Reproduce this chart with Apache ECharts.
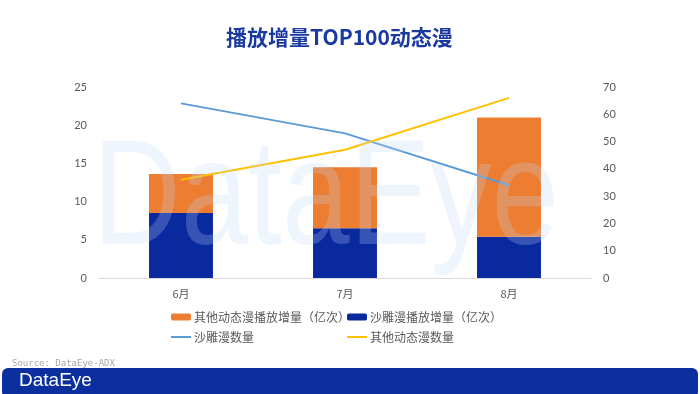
<!DOCTYPE html>
<html>
<head>
<meta charset="utf-8">
<script src="https://cdn.jsdelivr.net/npm/echarts@6/dist/echarts.min.js"></script>
<style>
html,body{margin:0;padding:0;background:#fff;}
#main{width:700px;height:394px;}
</style>
</head>
<body>
<div id="main"></div>
<script>
const categories = ['6月', '7月', '8月'];
const otherPlay = [5.1, 8.0, 15.6];
const shadiaoPlay = [8.5, 6.5, 5.4];
const shadiaoCount = [64, 53, 34];
const otherCount = [36, 47, 66];
const leftTicks = [0, 25, 5];
const rightTicks = [0, 70, 10];

const chart = echarts.init(document.getElementById('main'));
const cjk = '"Noto Sans CJK SC", "Noto Sans", sans-serif';
const lineIcon = 'path://M0 0 H20 V2 H0 Z';
const legendText = { fontFamily: cjk, fontSize: 12, color: '#595959', padding: [0, 0, 0, -2] };
chart.setOption({
  animation: false,
  backgroundColor: '#ffffff',
  title: {
    text: '播放增量TOP100动态漫',
    left: 221,
    top: 22,
    textStyle: { fontFamily: cjk, fontSize: 21, fontWeight: 'bold', color: '#1a3aa0' }
  },
  grid: { left: 99, right: 109, top: 87, bottom: 116 },
  legend: [
    {
      orient: 'vertical', left: 171, top: 311, itemGap: 8, padding: 0,
      itemWidth: 20, itemHeight: 7,
      textStyle: legendText,
      data: ['其他动态漫播放增量（亿次）', { name: '沙雕漫数量', icon: lineIcon }]
    },
    {
      orient: 'vertical', left: 347, top: 311, itemGap: 8, padding: 0,
      itemWidth: 20, itemHeight: 7,
      textStyle: legendText,
      data: ['沙雕漫播放增量（亿次）', { name: '其他动态漫数量', icon: lineIcon }]
    }
  ],
  xAxis: {
    type: 'category',
    data: categories,
    axisLine: { lineStyle: { color: '#d9d9d9', width: 1 } },
    axisTick: { show: false },
    axisLabel: { fontFamily: cjk, fontSize: 11, color: '#595959', margin: 10 }
  },
  yAxis: [
    {
      type: 'value', min: leftTicks[0], max: leftTicks[1], interval: leftTicks[2],
      splitLine: { show: false },
      axisLabel: { fontFamily: 'Lato, "Noto Sans", sans-serif', fontSize: 11, color: '#595959', margin: 12 }
    },
    {
      type: 'value', min: rightTicks[0], max: rightTicks[1], interval: rightTicks[2],
      splitLine: { show: false },
      axisLabel: { fontFamily: 'Lato, "Noto Sans", sans-serif', fontSize: 11, color: '#595959', margin: 12 }
    }
  ],
  graphic: [
    {
      type: 'text', left: 93, top: 128, z: 100, silent: true,
      scaleX: 0.81,
      style: {
        text: 'DataEye',
        font: '150px "Liberation Sans", Arial, sans-serif',
        fill: 'rgba(190,215,245,0.25)'
      }
    },
    {
      type: 'text', left: 12, top: 359, z: 10,
      style: { text: 'Source: DataEye-ADX', font: '9px "DejaVu Sans Mono", monospace', fill: '#a6a6a6' }
    },
    {
      type: 'rect', shape: { x: 2, y: 368, width: 696, height: 30, r: 6 }, z: 10,
      style: { fill: '#0b2f9e' }
    },
    {
      type: 'text', left: 19, top: 371, z: 11,
      style: { text: 'DataEye', font: '19px "Liberation Sans", Arial, sans-serif', fill: '#ffffff' }
    }
  ],
  series: [
    {
      name: '沙雕漫播放增量（亿次）', type: 'bar', stack: 'play', barWidth: '39%',
      data: shadiaoPlay, itemStyle: { color: '#0a299f' }
    },
    {
      name: '其他动态漫播放增量（亿次）', type: 'bar', stack: 'play', barWidth: '39%',
      data: otherPlay, itemStyle: { color: '#ed7d31' }
    },
    {
      name: '沙雕漫数量', type: 'line', yAxisIndex: 1, data: shadiaoCount,
      symbol: 'none', lineStyle: { color: '#5b9bd5', width: 2 }, itemStyle: { color: '#5b9bd5' }
    },
    {
      name: '其他动态漫数量', type: 'line', yAxisIndex: 1, data: otherCount,
      symbol: 'none', lineStyle: { color: '#ffc000', width: 2 }, itemStyle: { color: '#ffc000' }
    }
  ]
});
</script>
</body>
</html>
